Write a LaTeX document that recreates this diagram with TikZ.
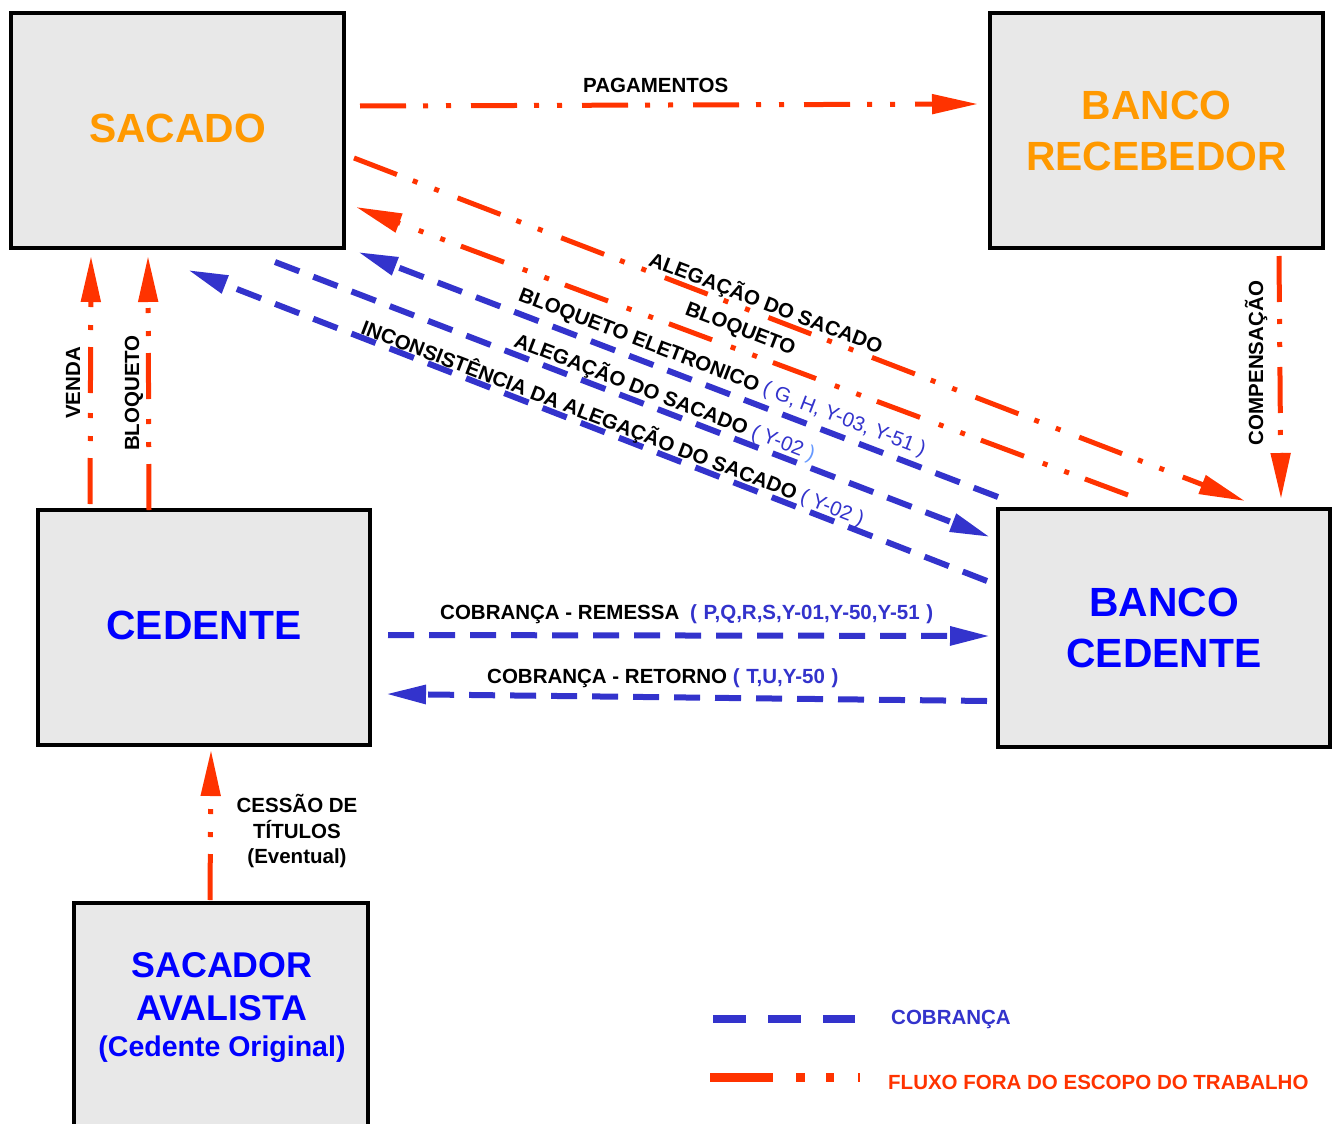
\documentclass[tikz,border=0pt]{standalone}
\usepackage{fontspec}
\setmainfont{Liberation Sans}
\usetikzlibrary{arrows.meta}
\definecolor{redarr}{RGB}{255,51,0}
\definecolor{bluearr}{RGB}{51,51,204}
\definecolor{boxfill}{RGB}{232,232,232}
\definecolor{orangetxt}{RGB}{255,153,0}
\definecolor{bluetxt}{RGB}{0,0,255}
\definecolor{lightblue}{RGB}{102,153,255}
\begin{document}
\begin{tikzpicture}[x=1pt,y=-1pt,
 box/.style={draw=black, line width=4pt, fill=boxfill, rectangle, inner sep=0pt, align=center,
   font=\bfseries\fontsize{40.8}{51}\selectfont},
 redflow/.style={color=redarr, line width=5pt, dash pattern=on 46pt off 17pt on 5pt off 18pt on 5pt off 20pt},
 blueflow/.style={color=bluearr, line width=6pt, dash pattern=on 26pt off 15pt},
 redtip/.style={-{Triangle[length=46pt,width=19pt]}},
 bluetip/.style={-{Triangle[length=40pt,width=18pt]}},
 lbl/.style={font=\bfseries\fontsize{20.5}{25.5}\selectfont, inner sep=0pt, align=center},
 diag/.style={lbl, rotate=-21},
]
\useasboundingbox (0,0) rectangle (1339,1124);
\fill[white] (0,0) rectangle (1339,1124);
\clip (0,0) rectangle (1339,1124);

% boxes
\node[box, minimum width=333pt, minimum height=235pt, text=orangetxt] (sacado) at (177.5,130.5) {\raisebox{4pt}{SACADO}};
\node[box, minimum width=333pt, minimum height=235pt, text=orangetxt] (recebedor) at (1156.5,130.5) {BANCO\\RECEBEDOR};
\node[box, minimum width=332pt, minimum height=235pt, text=bluetxt] (cedente) at (204,627.5) {\raisebox{4pt}{CEDENTE}};
\node[box, minimum width=332pt, minimum height=238pt, text=bluetxt] (bcedente) at (1164,628) {BANCO\\CEDENTE};
\node[box, minimum width=294pt, minimum height=260pt] (avalista) at (221,1033) {};
\node[anchor=base, inner sep=0pt, text=bluetxt, font=\bfseries\fontsize{35.8}{43}\selectfont] (av1) at (222,977) {SACADOR};
\node[anchor=base, inner sep=0pt, text=bluetxt, font=\bfseries\fontsize{35.8}{43}\selectfont] (av2) at (222,1020) {AVALISTA};
\node[anchor=base, inner sep=0pt, text=bluetxt, font=\bfseries\fontsize{28.5}{34}\selectfont] (av3) at (222,1056) {(Cedente Original)};

% connector end points
\coordinate (pagS) at (360,106);  \coordinate (pagE) at (978,104);
\coordinate (venS) at (90,504);   \coordinate (venE) at (91,256);
\coordinate (bloS) at (149,510);  \coordinate (bloE) at (148,256);
\coordinate (comS) at (1279,256); \coordinate (comE) at (1281,499);
\coordinate (cesS) at (210,900);  \coordinate (cesE) at (211,750);
\coordinate (remS) at (388,635);  \coordinate (remE) at (990,636);
\coordinate (retS) at (987,701);  \coordinate (retE) at (386,694);
\coordinate (alrS) at (354,158);  \coordinate (alrE) at (1245,501);
\coordinate (blrS) at (1128,495); \coordinate (blrE) at (356,207);
\coordinate (bleS) at (998,497);  \coordinate (bleE) at (358,252);
\coordinate (albS) at (275,262);  \coordinate (albE) at (990,537);
\coordinate (incS) at (987,581);  \coordinate (incE) at (188,270);

% red flows
\draw[redflow, redtip] (pagS) -- (pagE);
\draw[redflow, redtip] (venS) -- (venE);
\draw[redflow, redtip] (bloS) -- (bloE);
\draw[redflow, redtip] (comS) -- (comE);
\draw[redflow, redtip] (cesS) -- (cesE);
\draw[redflow, redtip] (alrS) -- (alrE);
\draw[redflow, redtip] (blrS) -- (blrE);

% blue flows
\draw[blueflow, bluetip] (remS) -- (remE);
\draw[blueflow, bluetip] (retS) -- (retE);
\draw[blueflow, bluetip] (bleS) -- (bleE);
\draw[blueflow, bluetip] (albS) -- (albE);
\draw[blueflow, bluetip] (incS) -- (incE);

% labels
\node[lbl, anchor=west] (lpag) at (583,85) {PAGAMENTOS};
\node[lbl, rotate=90] (lven) at (73,383) {VENDA};
\node[lbl, rotate=90] (lblo) at (134,393) {BLOQUETO};
\node[lbl, rotate=90] (lcom) at (1256,363) {COMPENSAÇÃO};
\node[lbl] (lces) at (297,831) {CESSÃO DE\\TÍTULOS\\(Eventual)};
\node[lbl, anchor=west] (lrem) at (440,614) {COBRANÇA - REMESSA\hspace{5pt} \textcolor{bluearr}{(\hspace{1pt} P,Q,R,S,Y-01,Y-50,Y-51\hspace{1pt} )}};
\node[lbl, anchor=west] (lret) at (487,678) {COBRANÇA - RETORNO \textcolor{bluearr}{(\hspace{1pt} T,U,Y-50\hspace{1pt} )}};

\node[diag] (lalr) at (766,303) {ALEGAÇÃO DO SACADO};
\node[diag] (lblr) at (740,330) {BLOQUETO};
\node[diag] (lble) at (722,373) {BLOQUETO ELETRONICO \textcolor{bluearr}{\mdseries( G, H, Y-03, Y-51 )}};
\node[diag] (lalb) at (665,397) {ALEGAÇÃO DO SACADO \textcolor{bluearr}{\mdseries( Y-02 }\textcolor{lightblue}{\mdseries)}};
\node[diag] (linc) at (613,423) {INCONSISTÊNCIA DA ALEGAÇÃO DO SACADO \textcolor{bluearr}{\mdseries( Y-02 )}};

% legend
\coordinate (legB1) at (713,1019); \coordinate (legB2) at (855,1019);
\coordinate (legR1) at (710,1077); \coordinate (legR2) at (860,1077);
\draw[color=bluearr, line width=8pt, dash pattern=on 33pt off 22pt] (legB1) -- (legB2);
\draw[color=redarr, line width=9pt, dash pattern=on 63pt off 23pt on 9pt off 21pt on 8pt off 24pt] (legR1) -- (legR2);
\node[lbl, anchor=west, text=bluearr] (legBt) at (891,1019) {COBRANÇA};
\node[lbl, anchor=west, text=redarr] (legRt) at (888,1082) {FLUXO FORA DO ESCOPO DO TRABALHO};
\end{tikzpicture}
\end{document}
